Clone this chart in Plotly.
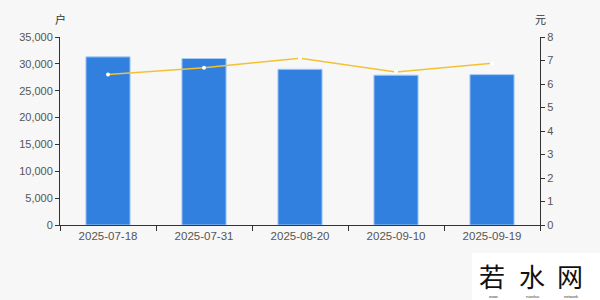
import plotly.graph_objects as go

dates = ["2025-07-18", "2025-07-31", "2025-08-20", "2025-09-10", "2025-09-19"]
holders = [31300, 31000, 29000, 27900, 28000]
price = [6.40, 6.69, 7.10, 6.51, 6.88]
left_ticks = [0, 5000, 10000, 15000, 20000, 25000, 30000, 35000]
right_ticks = [0, 1, 2, 3, 4, 5, 6, 7, 8]
watermark_chars = ["若", "水", "网"]

fig = go.Figure()
fig.add_trace(go.Bar(
    x=dates, y=holders, width=0.46,
    marker=dict(color="#3180e0", line=dict(color="#a9cdf5", width=1)),
    yaxis="y", showlegend=False,
))
fig.add_trace(go.Scatter(
    x=dates, y=price, mode="lines+markers",
    line=dict(color="#f2c232", width=1.5),
    marker=dict(color="#ffffff", size=4, line=dict(color="#f2c232", width=0)),
    yaxis="y2", showlegend=False,
))

font = dict(family="Liberation Sans, Arial, sans-serif", size=11, color="#555555")
px = lambda v: (v - 60) / 480
py = lambda v: (225 - v) / 188

annotations = [
    dict(text="户", x=0, y=1.04, xref="paper", yref="paper", xanchor="center",
         yanchor="bottom", showarrow=False,
         font=dict(size=11, color="#333333", family="Noto Sans CJK SC")),
    dict(text="元", x=1, y=1.04, xref="paper", yref="paper", xanchor="center",
         yanchor="bottom", showarrow=False,
         font=dict(size=11, color="#333333", family="Noto Sans CJK SC")),
]
for cx, ch in zip([492, 532, 570], watermark_chars):
    annotations.append(dict(text=ch, x=px(cx), y=py(275), xref="paper", yref="paper",
                            showarrow=False, xanchor="center", yanchor="middle",
                            font=dict(size=26, color="#111111", family="Noto Sans CJK SC")))
for cx, t in zip([493, 532, 571], ["www", "ruoshui", "network"]):
    annotations.append(dict(text=t, x=px(cx), y=py(296), xref="paper", yref="paper",
                            showarrow=False, xanchor="center", yanchor="middle",
                            font=dict(size=4, color="#333333", family="Liberation Sans")))

fig.update_layout(
    width=600, height=300,
    margin=dict(l=60, r=60, t=37, b=75),
    paper_bgcolor="#f7f7f7", plot_bgcolor="#f7f7f7",
    font=font,
    xaxis=dict(
        type="category", showgrid=False, showline=True, linecolor="#333333", linewidth=1,
        ticks="outside", ticklen=5, tickcolor="#333333", tickson="boundaries",
        tickfont=dict(family="Liberation Sans, Arial, sans-serif", size=11.5, color="#555555"),
    ),
    yaxis=dict(
        range=[0, 35000], tickvals=left_ticks, tickformat=",d", showgrid=False,
        showline=True, linecolor="#333333", linewidth=1, ticks="outside", ticklen=4,
        tickcolor="#333333", zeroline=False, tickfont=font,
    ),
    yaxis2=dict(
        range=[0, 8], tickvals=right_ticks, overlaying="y", side="right", showgrid=False,
        showline=True, linecolor="#333333", linewidth=1, ticks="outside", ticklen=4,
        tickcolor="#333333", zeroline=False, tickfont=font,
    ),
    annotations=annotations,
    shapes=[dict(type="rect", xref="paper", yref="paper",
                 x0=px(472), x1=px(600), y0=py(300), y1=py(253), fillcolor="#ffffff",
                 line=dict(width=0), layer="below")],
)
fig.write_html("out.html")
